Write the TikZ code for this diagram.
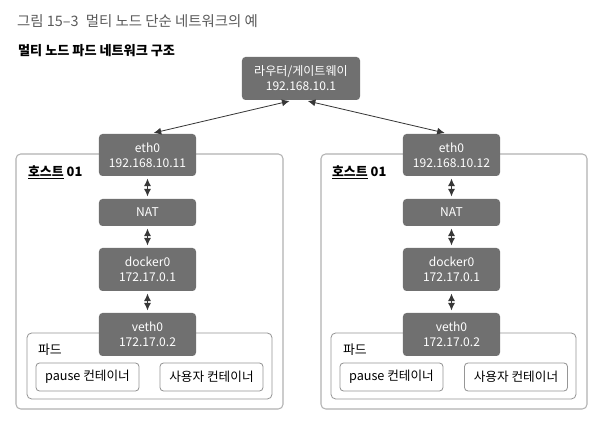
\documentclass[tikz,border=0pt]{standalone}
\usepackage{fontspec}
\setmainfont{Noto Sans CJK KR}
\usepackage{xcolor}
\usepackage{tikz}
\usetikzlibrary{positioning,calc}
\usetikzlibrary{arrows.meta}

\definecolor{boxgray}{RGB}{112,112,112}
\definecolor{hostgray}{RGB}{178,178,178}
\definecolor{podgray}{RGB}{150,150,150}
\definecolor{titlegray}{RGB}{90,90,90}
\definecolor{arrowgray}{RGB}{55,55,55}

\begin{document}
\begin{tikzpicture}[x=0.03cm,y=-0.03cm,
	gbox/.style={fill=boxgray,text=white,rounded corners=3pt,align=center,inner sep=0pt,minimum width=2.91cm,font=\fontsize{10.3}{12.8}\selectfont},
	hostbox/.style={draw=hostgray,fill=white,rounded corners=4pt,line width=0.9pt,minimum height=7.65cm,inner sep=0pt},
	podbox/.style={draw=podgray,fill=white,rounded corners=4pt,line width=0.7pt,minimum width=7.35cm,minimum height=1.98cm,inner sep=0pt},
	cbox/.style={draw=podgray,fill=white,rounded corners=3pt,line width=0.7pt,minimum width=3.09cm,minimum height=0.84cm,inner sep=0pt,font=\fontsize{10.8}{12}\selectfont},
	link/.style={{Latex[length=6.5pt,width=6pt]}-{Latex[length=6.5pt,width=6pt]},arrowgray,line width=0.7pt,shorten >=2pt,shorten <=2pt}]
	\useasboundingbox (0,0) rectangle (603,433);
	\node[anchor=west,text=titlegray,font=\fontsize{12.3}{14}\selectfont] (title) at (13,21) {그림 15–3\enspace 멀티 노드 단순 네트워크의 예};
	\node[anchor=west,font=\bfseries\fontsize{11.2}{13}\selectfont] (subtitle) at (14,51) {멀티 노드 파드 네트워크 구조};
	\node[gbox,minimum width=3.54cm,minimum height=1.29cm] (router) at (301,78.5) {라우터/게이트웨이\\192.168.10.1};

	\node[hostbox,minimum width=8.01cm] (hostA) at (149.5,281.5) {};
	\node[hostbox,minimum width=7.98cm] (hostB) at (454,281.5) {};
	\node[anchor=west,font=\bfseries\fontsize{11}{13}\selectfont] (hostAlbl) at (24,172) {\underline{호스트} 01};
	\node[anchor=west,font=\bfseries\fontsize{11}{13}\selectfont] (hostBlbl) at (328,172) {\underline{호스트} 01};

	\node[podbox] (podA) at (149.5,366) {};
	\node[podbox] (podB) at (453.5,366) {};
	\node[anchor=west,font=\fontsize{11}{13}\selectfont] (podAlbl) at (34,350) {파드};
	\node[anchor=west,font=\fontsize{11}{13}\selectfont] (podBlbl) at (339,350) {파드};
	\node[cbox] (pauseA) at (87.5,377) {pause 컨테이너};
	\node[cbox] (userA) at (211.5,377) {사용자 컨테이너};
	\node[cbox] (pauseB) at (391.5,377) {pause 컨테이너};
	\node[cbox] (userB) at (516,377) {사용자 컨테이너};

	\node[gbox,minimum height=1.26cm] (ethA) at (147.5,155) {eth0\\192.168.10.11};
	\node[gbox,minimum height=0.81cm] (natA) at (147.5,212.5) {NAT};
	\node[gbox,minimum height=1.29cm] (dockA) at (147.5,269.5) {docker0\\172.17.0.1};
	\node[gbox,minimum height=1.29cm] (vethA) at (147.5,334.5) {veth0\\172.17.0.2};

	\node[gbox,minimum height=1.26cm] (ethB) at (451.5,155) {eth0\\192.168.10.12};
	\node[gbox,minimum height=0.81cm] (natB) at (451.5,212.5) {NAT};
	\node[gbox,minimum height=1.29cm] (dockB) at (451.5,269.5) {docker0\\172.17.0.1};
	\node[gbox,minimum height=1.29cm] (vethB) at (451.5,334.5) {veth0\\172.17.0.2};

	\draw[link,shorten >=3pt,shorten <=3pt] ([xshift=-0.24cm]router.south) -- ([xshift=0.08cm]ethA.north);
	\draw[link,shorten >=3pt,shorten <=3pt] ([xshift=0.1cm]router.south) -- ([xshift=-0.1cm]ethB.north);
	\draw[link] (ethA) -- (natA);
	\draw[link] (natA) -- (dockA);
	\draw[link] (dockA) -- (vethA);
	\draw[link] (ethB) -- (natB);
	\draw[link] (natB) -- (dockB);
	\draw[link] (dockB) -- (vethB);
\end{tikzpicture}
\end{document}
